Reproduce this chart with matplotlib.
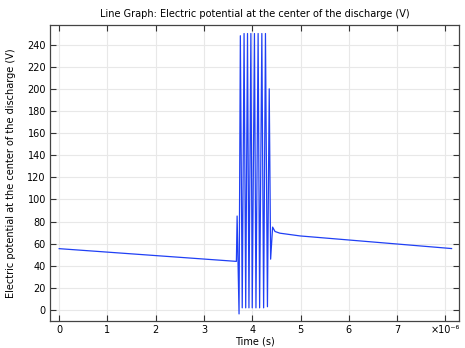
import numpy as np
import matplotlib
matplotlib.use("Agg")
import matplotlib.pyplot as plt

# time in microseconds, potential in V
time_us = [0.0, 3.67, 3.685, 3.725,
           3.752, 3.791, 3.829, 3.863, 3.900, 3.930, 3.970, 3.998,
           4.044, 4.075, 4.120, 4.151, 4.197, 4.234, 4.272, 4.313,
           4.350, 4.379, 4.420, 4.47, 4.57, 4.99, 8.126]
potential = [55.5, 44.0, 85.0, -3.5,
             248.0, 2.0, 250.0, 2.0, 250.0, 2.0, 250.0, 2.0,
             250.0, 2.0, 250.0, 2.0, 250.0, 2.0, 250.0, 3.0,
             200.0, 46.0, 75.0, 71.0, 69.5, 67.0, 55.6]

xticks = [0, 1, 2, 3, 4, 5, 6, 7, 8]
xticklabels = ["0", "1", "2", "3", "4", "5", "6", "7", "×10⁻⁶"]
yticks = list(range(0, 241, 20))

fig = plt.figure(figsize=(4.65, 3.48), dpi=100)
ax = fig.add_axes([50 / 465, 1 - 321 / 348, 409 / 465, 296 / 348])

ax.plot(time_us, potential, color="#2040f5", lw=0.9)

ax.set_xlim(-0.19, 8.28)
ax.set_ylim(-9.9, 257.7)
ax.set_xticks(xticks)
ax.set_xticklabels(xticklabels)
ax.set_yticks(yticks)
ax.grid(True, color="#e8e8e8", lw=0.8)
ax.set_axisbelow(True)
ax.tick_params(direction="in", length=4, width=0.8, labelsize=7,
               top=True, right=True, colors="#333333", labelcolor="black", pad=3)
for s in ax.spines.values():
    s.set_color("#444444")
    s.set_linewidth(0.9)

ax.set_title("Line Graph: Electric potential at the center of the discharge (V)",
             fontsize=7, pad=6)
ax.set_xlabel("Time (s)", fontsize=7, labelpad=1)
ax.set_ylabel("Electric potential at the center of the discharge (V)", fontsize=7, labelpad=8)

fig.savefig("out.png", dpi=100)
